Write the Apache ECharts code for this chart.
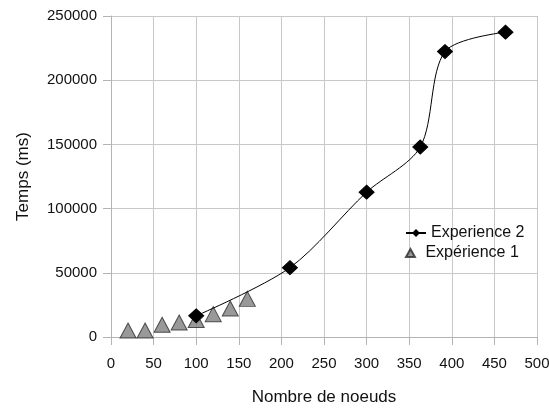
<!DOCTYPE html>
<html>
<head>
<meta charset="utf-8">
<script src="https://cdn.jsdelivr.net/npm/echarts@6/dist/echarts.min.js"></script>
<style>
html,body{margin:0;padding:0;background:#fff;}
#c{width:549px;height:409px;}
</style>
</head>
<body>
<div id="c"></div>
<script>
var exp2X = [100, 210, 300, 363, 392, 463];
var exp2Y = [16500, 54000, 112800, 148000, 222300, 237400];
var exp1X = [20, 40, 60, 80, 100, 120, 140, 160];
var exp1Y = [5000, 5000, 9500, 11300, 13200, 17800, 22200, 29700];
var seriesNames = ['Experience 2', 'Expérience 1'];
var xTitle = 'Nombre de noeuds';
var yTitle = 'Temps (ms)';

function pairs(xs, ys){ return xs.map(function(x,i){ return [x, ys[i]]; }); }

var font = 'Liberation Sans, Arial, sans-serif';
var txt = '#111';
var chart = echarts.init(document.getElementById('c'), null, {renderer:'canvas'});
chart.setOption({
  animation: false,
  backgroundColor: '#fff',
  textStyle: {fontFamily: font},
  grid: {left: 111, right: 12, top: 16, bottom: 72, containLabel: false, outerBoundsMode: 'none'},
  legend: [
    {
      data: [seriesNames[0]],
      left: 405, top: 225, padding: 0,
      itemWidth: 20, itemHeight: 10, itemGap: 0,
      textStyle: {fontFamily: font, fontSize: 16, color: txt}
    },
    {
      data: [{name: seriesNames[1], icon: 'path://M5,0L10,9L0,9Z'}],
      left: 405, top: 245, padding: 0,
      itemWidth: 20, itemHeight: 8, itemGap: 0,
      symbolKeepAspect: true,
      textStyle: {fontFamily: font, fontSize: 16, color: txt}
    }
  ],
  xAxis: {
    type: 'value', min: 0, max: 500, interval: 50,
    name: xTitle, nameLocation: 'middle', nameGap: 52,
    nameTextStyle: {fontFamily: font, fontSize: 17, color: txt},
    axisLine: {show: true, lineStyle: {color: '#b3b3b3', width: 1}},
    axisTick: {show: true, length: 8, lineStyle: {color: '#b3b3b3'}},
    axisLabel: {fontFamily: font, fontSize: 15, color: txt, margin: 19},
    splitLine: {show: true, lineStyle: {color: '#c8c8c8', width: 1}}
  },
  yAxis: {
    type: 'value', min: 0, max: 250000, interval: 50000,
    name: yTitle, nameLocation: 'middle', nameGap: 79, nameRotate: 90,
    nameTextStyle: {fontFamily: font, fontSize: 17, color: txt},
    axisLine: {show: true, lineStyle: {color: '#b3b3b3', width: 1}},
    axisTick: {show: true, length: 8, lineStyle: {color: '#b3b3b3'}},
    axisLabel: {fontFamily: font, fontSize: 15, color: txt, margin: 14,
      formatter: function(v){ return String(v); }},
    splitLine: {show: true, lineStyle: {color: '#c8c8c8', width: 1}}
  },
  series: [
    {
      name: seriesNames[1], type: 'scatter',
      data: pairs(exp1X, exp1Y),
      symbol: 'triangle', symbolSize: [16, 15],
      itemStyle: {color: '#7f7f7f', borderColor: '#2a2a2a', borderWidth: 1},
      z: 2
    },
    {
      name: seriesNames[0], type: 'line',
      data: pairs(exp2X, exp2Y),
      smooth: 0.3,
      symbol: 'diamond', symbolSize: [15, 14],
      showAllSymbol: true,
      lineStyle: {color: '#000', width: 1},
      itemStyle: {color: '#000', borderColor: '#000'},
      z: 3
    }
  ]
});
</script>
</body>
</html>
